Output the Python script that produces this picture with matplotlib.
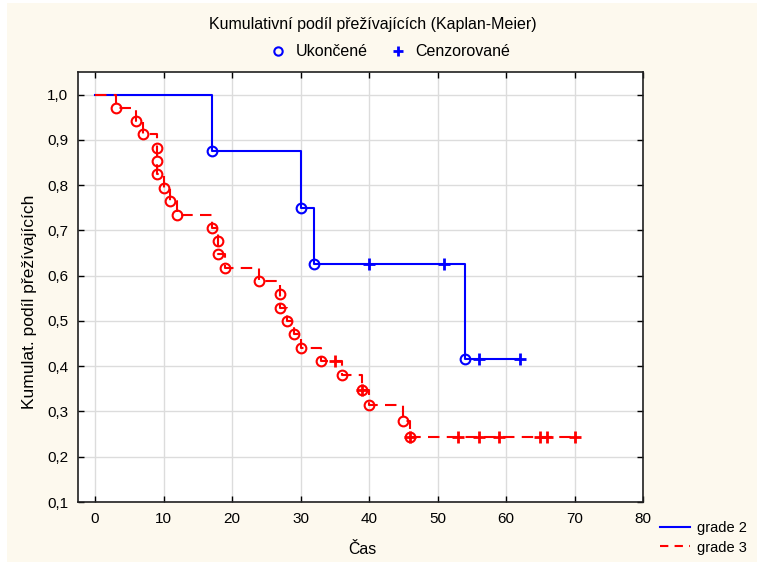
import matplotlib.pyplot as plt
from matplotlib.lines import Line2D
from matplotlib.patches import Rectangle

plt.rcParams['font.family'] = ['Liberation Sans', 'DejaVu Sans']
plt.rcParams['font.size'] = 11

# grade 2 - event times and survival after each event
t_g2 = [0, 17, 30, 32, 54]
s_g2 = [1.0, 0.875, 0.75, 0.625, 0.417]
end_g2 = 62
cens_t_g2 = [40, 51, 56, 62]
cens_s_g2 = [0.625, 0.625, 0.417, 0.417]

# grade 3
t_g3 = [0, 3, 6, 7, 9, 9, 9, 10, 11, 12, 17, 18, 18, 19, 24, 27, 27, 28, 29, 30, 33, 36, 39, 40, 45, 46]
s_g3 = [1.0, 0.971, 0.941, 0.912, 0.882, 0.853, 0.824, 0.794, 0.765, 0.735, 0.706, 0.676, 0.647,
        0.618, 0.588, 0.559, 0.529, 0.500, 0.471, 0.441, 0.412, 0.380, 0.348, 0.314, 0.279, 0.244]
end_g3 = 70
cens_t_g3 = [35, 39, 46, 53, 56, 59, 65, 66, 70]
cens_s_g3 = [0.412, 0.348, 0.244, 0.244, 0.244, 0.244, 0.244, 0.244, 0.244]

xticks = [0, 10, 20, 30, 40, 50, 60, 70, 80]
yticks = [0.1, 0.2, 0.3, 0.4, 0.5, 0.6, 0.7, 0.8, 0.9, 1.0]

W, H = 757, 562
fig = plt.figure(figsize=(W/100, H/100), dpi=100)
fig.patch.set_facecolor('white')
fig.patches.append(Rectangle((7/W, 0), 1, 1-3/H, transform=fig.transFigure,
                             facecolor='#FDF9EE', edgecolor='none', zorder=-10))

ax = fig.add_axes([78/W, 1-502/H, (643-78)/W, (502-72)/H])
ax.set_facecolor('white')

def steps(t, s, end):
    xs, ys = [t[0]], [s[0]]
    for i in range(1, len(t)):
        xs += [t[i], t[i]]
        ys += [s[i-1], s[i]]
    xs.append(end)
    ys.append(s[-1])
    return xs, ys

blue = '#0000FF'
red = '#FF0000'
x2, y2 = steps(t_g2, s_g2, end_g2)
ax.plot(x2, y2, color=blue, lw=1.5, zorder=3)
ax.plot(t_g2[1:], s_g2[1:], 'o', mfc='none', mec=blue, ms=7, mew=1.5, zorder=4)
ax.plot(cens_t_g2, cens_s_g2, '+', color=blue, ms=8, mew=2, zorder=4)

x3, y3 = steps(t_g3, s_g3, end_g3)
ax.plot(x3, y3, color=red, lw=1.5, ls=(0, (5.5, 3.5)), zorder=5)
ax.plot(t_g3[1:], s_g3[1:], 'o', mfc='none', mec=red, ms=7, mew=1.5, zorder=6)
ax.plot(cens_t_g3, cens_s_g3, '+', color=red, ms=8, mew=2, zorder=6)

ax.set_xlim(-2.5, 80)
ax.set_ylim(0.1, 1.05)
ax.set_xticks(xticks)
ax.set_yticks(yticks)
ax.set_yticklabels([f"{v:.1f}".replace('.', ',') for v in yticks])
ax.grid(True, color='#DCDCDC', lw=1)
ax.set_axisbelow(True)
ax.tick_params(direction='in', length=4, width=1, top=True, right=True, pad=7, labelsize=11)
for sp in ax.spines.values():
    sp.set_linewidth(1.2)
    sp.set_color('#202020')

fig.text(373/W, 1-25/H, 'Kumulativní podíl přežívajících (Kaplan-Meier)', ha='center', va='center', fontsize=11.5)
fig.text(30/W, 1-302/H, 'Kumulat. podíl přežívajících', ha='center', va='center', rotation=90, fontsize=12.5)
fig.text(362/W, 1-549/H, 'Čas', ha='center', va='center', fontsize=11.5)

h_top = [Line2D([], [], ls='none', marker='o', mfc='none', mec=blue, ms=6, mew=1.5),
         Line2D([], [], ls='none', marker='+', color=blue, ms=7, mew=2)]
fig.legend(h_top, ['Ukončené', 'Cenzorované'], loc='center', bbox_to_anchor=(390/W, 1-52/H),
           ncol=2, frameon=False, handlelength=1.0, handletextpad=0.6, columnspacing=1.4, fontsize=11.5)

h_bot = [Line2D([], [], color=blue, lw=1.5), Line2D([], [], color=red, lw=1.5, ls=(0, (4, 3)))]
fig.legend(h_bot, ['grade 2', 'grade 3'], loc='center left', bbox_to_anchor=(653/W, 1-538/H),
           frameon=False, handlelength=2.05, handletextpad=0.5, labelspacing=0.35, fontsize=10.5,
           borderpad=0)

fig.savefig('out.png', dpi=100, facecolor=fig.get_facecolor())
